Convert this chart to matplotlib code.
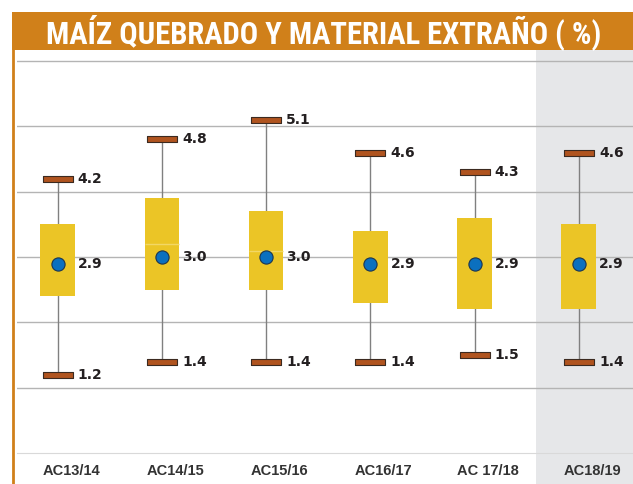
import matplotlib
matplotlib.use('Agg')
import matplotlib.pyplot as plt
import matplotlib.patches as mpatches
import matplotlib.transforms as mtransforms
from matplotlib import font_manager
import numpy as np

# data
categories = ['AC13/14', 'AC14/15', 'AC15/16', 'AC16/17', 'AC 17/18', 'AC18/19']
minimum = [1.2, 1.4, 1.4, 1.4, 1.5, 1.4]
maximum = [4.2, 4.8, 5.1, 4.6, 4.3, 4.6]
q1 = [2.4, 2.5, 2.5, 2.3, 2.2, 2.2]
q3 = [3.5, 3.9, 3.7, 3.4, 3.6, 3.5]
median = [np.nan, 3.2, 3.1, np.nan, np.nan, np.nan]
mean = [2.9, 3.0, 3.0, 2.9, 2.9, 2.9]
title = 'MAÍZ QUEBRADO Y MATERIAL EXTRAÑO ( %)'

orange = '#D0801A'
yellow = '#EBC526'
brown = '#B0541F'
blue = '#0B70BF'
dark = '#231F20'

W, H = 633, 484
fig = plt.figure(figsize=(W / 100, H / 100), dpi=100)
ax = fig.add_axes([17 / W, 1 - 453 / H, 1 - 17 / W, (453 - 50) / H])
ax.patch.set_alpha(0)

x = np.arange(len(categories))
ax.set_xlim(-0.39, 5.52)
ax.set_ylim(0, 6.17)

# grey band behind the last season
trans = mtransforms.blended_transform_factory(ax.transData, fig.transFigure)
band = mpatches.Rectangle((4.59, 0), 1.0, 1 - 50 / H, transform=trans,
                          facecolor='#E6E7E9', edgecolor='none', zorder=-5, clip_on=False)
fig.patches.append(band)

# title bar and left rule
fig.patches.append(mpatches.Rectangle((12 / W, 1 - 50 / H), 1 - 12 / W, 38 / H,
                                      transform=fig.transFigure, facecolor=orange,
                                      edgecolor='none', zorder=1))
fig.add_artist(plt.Line2D([13 / W, 13 / W], [0, 1 - 50 / H], transform=fig.transFigure,
                          color=orange, lw=2))

# look for a condensed face for the title, else plain Liberation Sans
fonts = font_manager.fontManager.ttflist
narrow = None
for f in fonts:
    if f.name in ('Roboto Condensed', 'Liberation Sans Narrow', 'Open Sans Condensed'):
        narrow = (f.name, 'normal')
        break
if narrow is None:
    for f in fonts:
        if f.name in ('DejaVu Sans', 'Noto Sans', 'Open Sans', 'Roboto') and \
                str(f.stretch) in ('condensed', 'semi-condensed'):
            narrow = (f.name, f.stretch)
            break
if narrow is None:
    narrow = ('Liberation Sans', 'normal')

t = fig.text(0.511, 1 - 33 / H, title, color='white', family=narrow[0],
             fontstretch=narrow[1], fontweight=600, fontsize=20,
             ha='center', va='center')
fig.canvas.draw()
w = t.get_window_extent().width
size = min(20 * 557 / w, 24)
t.set_fontsize(size)

# grid
for s in ['top', 'right', 'left']:
    ax.spines[s].set_visible(False)
ax.spines['bottom'].set_color('#D9D9D9')
ax.set_yticks(range(1, 7))
ax.yaxis.grid(True, color='#B4B4B4', lw=1)
ax.set_axisbelow(True)
ax.tick_params(axis='y', left=False, labelleft=False)
ax.tick_params(axis='x', length=0, pad=8)
ax.set_xticks(x + 0.13)
ax.set_xticklabels(categories, family='Liberation Sans', fontweight='bold',
                   fontsize=10.5, color='#333333')

# whiskers, boxes, caps, means
ax.vlines(x, minimum, maximum, color='#808080', lw=1, zorder=2)
ax.bar(x, np.array(q3) - np.array(q1), bottom=q1, width=0.333, color=yellow, zorder=3)
ax.hlines(median, x - 0.1665, x + 0.1665, color='#F2D765', lw=1, zorder=4)

cap = [(-1, -0.2), (1, -0.2), (1, 0.2), (-1, 0.2), (-1, -0.2)]
ax.plot(x, maximum, ls='none', marker=cap, ms=21.5, mfc=brown, mec='#3B2A20', mew=0.8, zorder=5)
ax.plot(x, minimum, ls='none', marker=cap, ms=21.5, mfc=brown, mec='#3B2A20', mew=0.8, zorder=5)
ax.plot(x, mean, ls='none', marker='o', ms=9.5, mfc=blue, mec='#1B3550', mew=0.8, zorder=6)

for i in range(len(categories)):
    for v in (maximum[i], mean[i], minimum[i]):
        ax.annotate(f'{v:.1f}', (x[i], v), xytext=(14.5, 0), textcoords='offset points',
                    ha='left', va='center', fontsize=10, fontweight='bold', color=dark)

plt.savefig('out.png', dpi=100)
